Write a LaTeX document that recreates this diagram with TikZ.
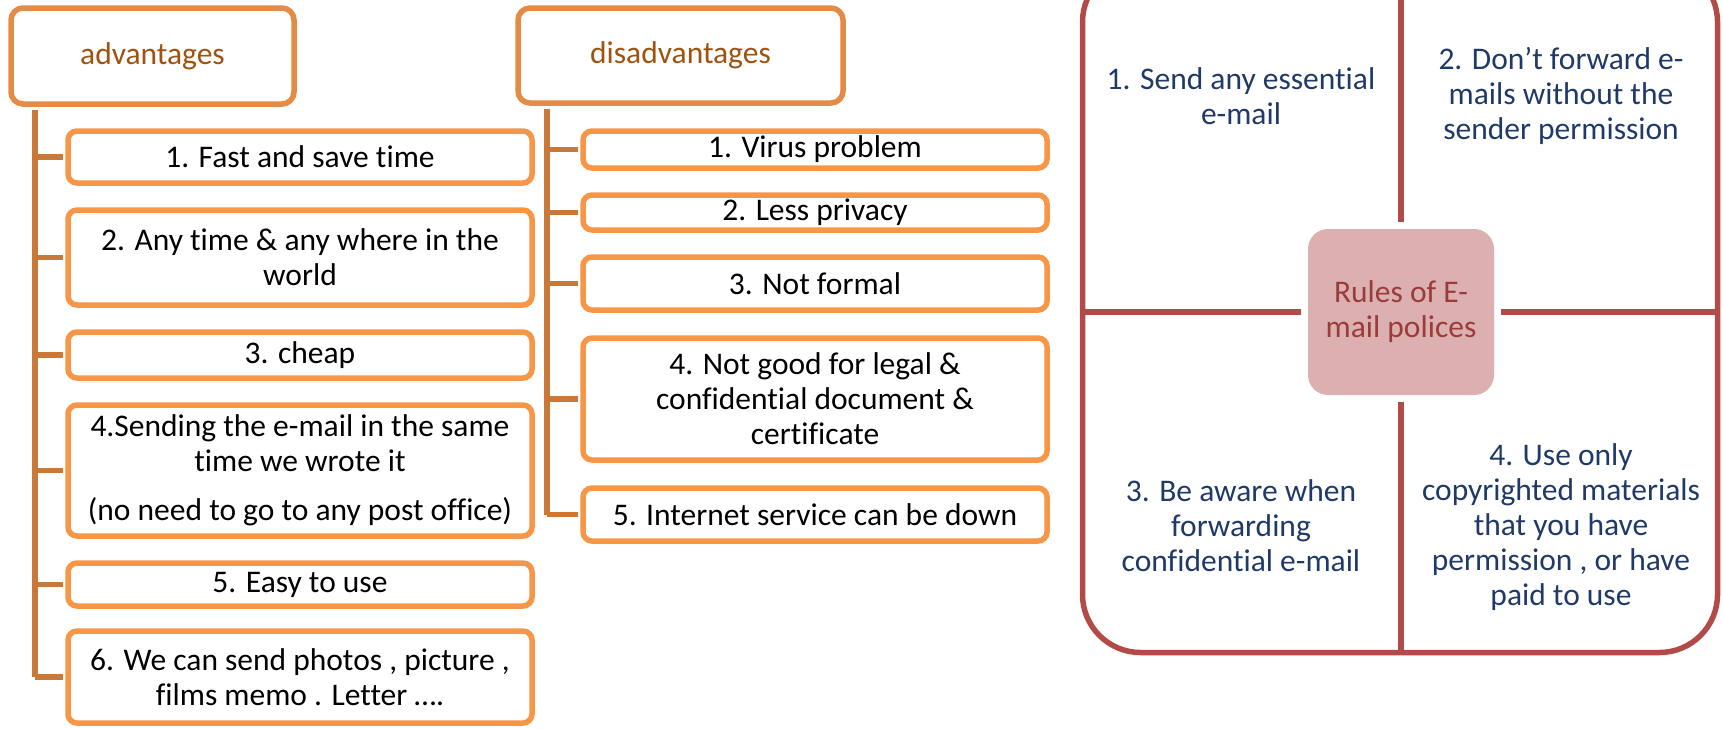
\documentclass[tikz,border=0pt]{standalone}
\usepackage{fontspec}
\setmainfont{Carlito}[Ligatures={NoCommon,NoContextual},Contextuals=NoAlternate]
\definecolor{hdr}{HTML}{E58B45}
\definecolor{itm}{HTML}{F79646}
\definecolor{trk}{HTML}{C97838}
\definecolor{hdrtxt}{HTML}{A0520F}
\definecolor{panelc}{HTML}{B24A48}
\definecolor{rulefill}{HTML}{DCB0B1}
\definecolor{ruletxt}{HTML}{9B3B3A}
\definecolor{navy}{HTML}{1F3A68}
\begin{document}
\begin{tikzpicture}[x=1pt,y=1pt,
  txt/.style={font=\fontsize{31.5}{35}\selectfont, align=center},
  header/.style={txt, draw=hdr, line width=5.5pt, rounded corners=12pt, fill=white, text=hdrtxt, inner sep=0pt},
  item/.style={txt, draw=itm, line width=5.5pt, rounded corners=9pt, fill=white, inner sep=0pt, minimum width=464pt},
  trunkline/.style={draw=trk, line width=6pt, shorten <=2.75pt},
  branch/.style={draw=trk, line width=5.5pt, shorten >=2.75pt},
  divider/.style={draw=panelc, line width=5.5pt, shorten <=6.5pt},
  quad/.style={txt, text=navy, inner sep=0pt}
]
\useasboundingbox (0,0) rectangle (1723,-728);

% ---------- advantages ----------
\node[header, minimum width=283pt, minimum height=96pt] (adv) at (152.5,-56) {advantages};
\node[item, minimum height=52pt]  (a1) at (300,-157)   {1. Fast and save time};
\node[item, minimum height=95pt]  (a2) at (300,-257.5) {2. Any time \& any where in the\\world};
\node[item, minimum height=46pt]  (a3) at (300,-355)   {3. cheap};
\node[item, minimum height=131pt] (a4) at (300,-470.5) {4.Sending the e-mail in the same\\time we wrote it\\[14pt](no need to go to any post office)};
\node[item, minimum height=43pt]  (a5) at (300,-584.5) {5. Easy to use};
\node[item, minimum height=92pt]  (a6) at (300,-677)   {6. We can send photos , picture ,\\films memo . Letter ….};

\coordinate (advtop) at ([xshift=26.5pt]adv.south west);
\draw[trunkline] (advtop) -- (advtop |- a6.west);
\foreach \n in {a1,a2,a3,a4,a5,a6} \draw[branch] (advtop |- \n.west) -- (\n.west);

% ---------- disadvantages ----------
\node[header, minimum width=325pt, minimum height=95pt] (dis) at (680.5,-55.5) {disadvantages};
\node[item, minimum height=37pt]  (d1) at (815,-149.5) {1. Virus problem};
\node[item, minimum height=35pt]  (d2) at (815,-212.5) {2. Less privacy};
\node[item, minimum height=53pt]  (d3) at (815,-283.5) {3. Not formal};
\node[item, minimum height=122pt] (d4) at (815,-399)   {4. Not good for legal \&\\confidential document \&\\certificate};
\node[item, minimum height=53pt]  (d5) at (815,-514.5) {5. Internet service can be down};

\coordinate (distop) at ([xshift=32pt]dis.south west);
\draw[trunkline] (distop) -- (distop |- d5.west);
\foreach \n in {d1,d2,d3,d4,d5} \draw[branch] (distop |- \n.west) -- (\n.west);

% ---------- rules panel ----------
\node[draw=panelc, line width=5.5pt, rounded corners=58pt, minimum width=635pt, minimum height=688.5pt, inner sep=0pt] (panel) at (1400,-308.25) {};
\node[txt, fill=rulefill, rounded corners=20pt, minimum width=186pt, minimum height=166pt, inner sep=0pt, text=ruletxt] (rules) at (1401,-312) {Rules of E-\\mail polices};

\draw[divider] (rules.north) -- (rules.north |- panel.north);
\draw[divider] (rules.south) -- (rules.south |- panel.south);
\draw[divider] (rules.west) -- (rules.west -| panel.west);
\draw[divider] (rules.east) -- (rules.east -| panel.east);

\node[quad] (q1) at (1241,-96.5) {1. Send any essential\\e-mail};
\node[quad] (q2) at (1561,-95.5) {2. Don’t forward e-\\mails without the\\sender permission};
\node[quad] (q3) at (1241,-526)  {3. Be aware when\\forwarding\\confidential e-mail};
\node[quad] (q4) at (1561,-527)  {4. Use only\\copyrighted materials\\that you have\\permission , or have\\paid to use};
\end{tikzpicture}
\end{document}
